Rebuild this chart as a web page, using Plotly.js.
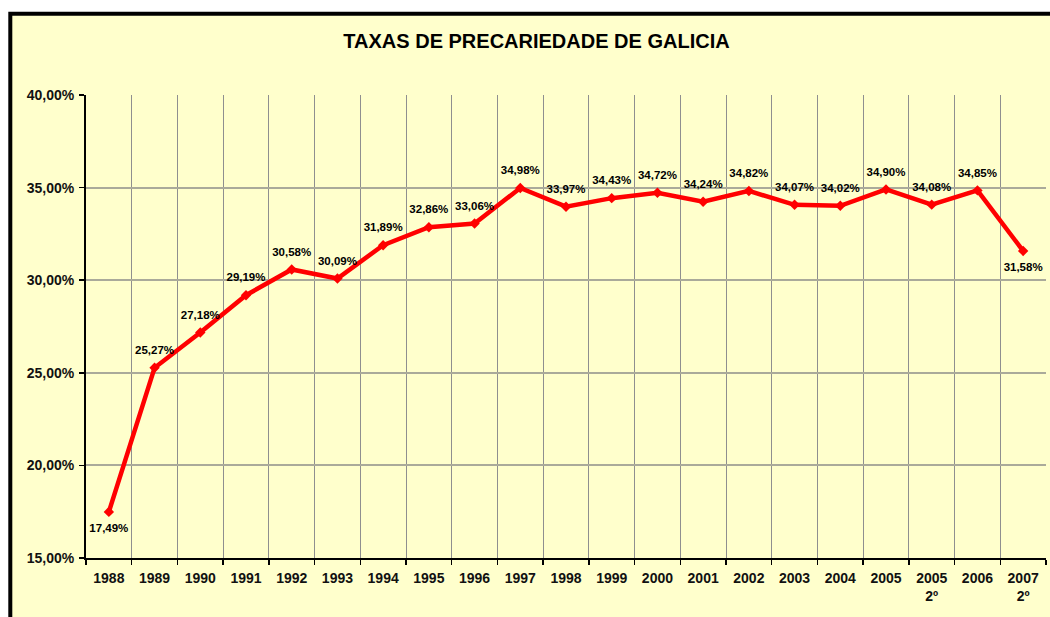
<!DOCTYPE html>
<html>
<head>
<meta charset="utf-8">
<script src="https://cdn.plot.ly/plotly-3.0.1.min.js"></script>
<style>html,body{margin:0;padding:0;background:#fff;}#chart{width:1050px;height:617px;}</style>
</head>
<body>
<div id="chart"></div>
<script>
const categories = ["1988","1989","1990","1991","1992","1993","1994","1995","1996","1997","1998","1999","2000","2001","2002","2003","2004","2005","2005<br>2º","2006","2007<br>2º"];
const rates = [17.49,25.27,27.18,29.19,30.58,30.09,31.89,32.86,33.06,34.98,33.97,34.43,34.72,34.24,34.82,34.07,34.02,34.90,34.08,34.85,31.58];
const yTicks = [15,20,25,30,35,40];
const yTickText = ["15,00%","20,00%","25,00%","30,00%","35,00%","40,00%"];
const titleText = "TAXAS DE PRECARIEDADE DE GALICIA";

const W = 1050, H = 617;
const m = {l: 86, r: 4, t: 95, b: 59};
const pw = W - m.l - m.r, ph = H - m.t - m.b;
const px = v => (v - m.l) / pw;
const py = v => (H - m.b - v) / ph;

const FONT = "Arial, 'Liberation Sans', sans-serif";

const positions = rates.map((v, i) => (i === 0 || i === rates.length - 1) ? "bottom center" : "top center");

const lineTrace = {
  x: categories,
  y: rates,
  type: "scatter",
  mode: "lines+markers",
  line: {color: "#FF0000", width: 4.5},
  marker: {symbol: "diamond", size: 8, color: "#FF0000"},
  cliponaxis: false,
  hoverinfo: "skip"
};

const labelTrace = {
  x: categories,
  y: rates,
  type: "scatter",
  mode: "markers+text",
  marker: {size: 16, color: "rgba(0,0,0,0)"},
  texttemplate: "%{y:.2f}%",
  textposition: positions,
  textfont: {family: FONT, size: 11.5, color: "#000", weight: "bold"},
  cliponaxis: false,
  hoverinfo: "skip"
};

const layout = {
  width: W, height: H,
  margin: m,
  separators: ",.",
  paper_bgcolor: "#FFFFFF",
  plot_bgcolor: "#FFFFCC",
  showlegend: false,
  title: {
    text: "<b>" + titleText + "</b>",
    font: {family: FONT, size: 20, color: "#000"},
    x: 536.5 / W, xref: "container", xanchor: "center",
    y: 1 - 41 / H, yref: "container", yanchor: "middle"
  },
  xaxis: {
    type: "category",
    range: [-0.5, categories.length - 0.5],
    tickson: "boundaries",
    showgrid: true,
    gridcolor: "#8f8f8f",
    gridwidth: 1,
    showline: true,
    linecolor: "#000",
    linewidth: 2,
    ticks: "outside",
    ticklen: 5,
    tickwidth: 1.5,
    tickcolor: "#000",
    ticklabelstandoff: 6,
    tickfont: {family: FONT, size: 14, color: "#111", weight: "bold"},
    tickangle: 0,
    fixedrange: true
  },
  yaxis: {
    range: [15, 40],
    tickmode: "array",
    tickvals: yTicks,
    ticktext: yTickText,
    showgrid: true,
    gridcolor: "#aaaa9a",
    gridwidth: 2,
    zeroline: false,
    showline: true,
    linecolor: "#000",
    linewidth: 2,
    ticks: "outside",
    ticklen: 5,
    tickwidth: 1.5,
    tickcolor: "#000",
    ticklabelstandoff: 2,
    tickfont: {family: FONT, size: 14, color: "#111", weight: "bold"},
    fixedrange: true
  },
  shapes: [{
    type: "rect", xref: "paper", yref: "paper", layer: "below",
    x0: px(10.3), x1: px(1200), y0: py(800), y1: py(13.7),
    fillcolor: "#FFFFCC",
    line: {color: "#000", width: 4}
  }]
};

Plotly.newPlot("chart", [lineTrace, labelTrace], layout, {displayModeBar: false, staticPlot: true});
</script>
</body>
</html>
